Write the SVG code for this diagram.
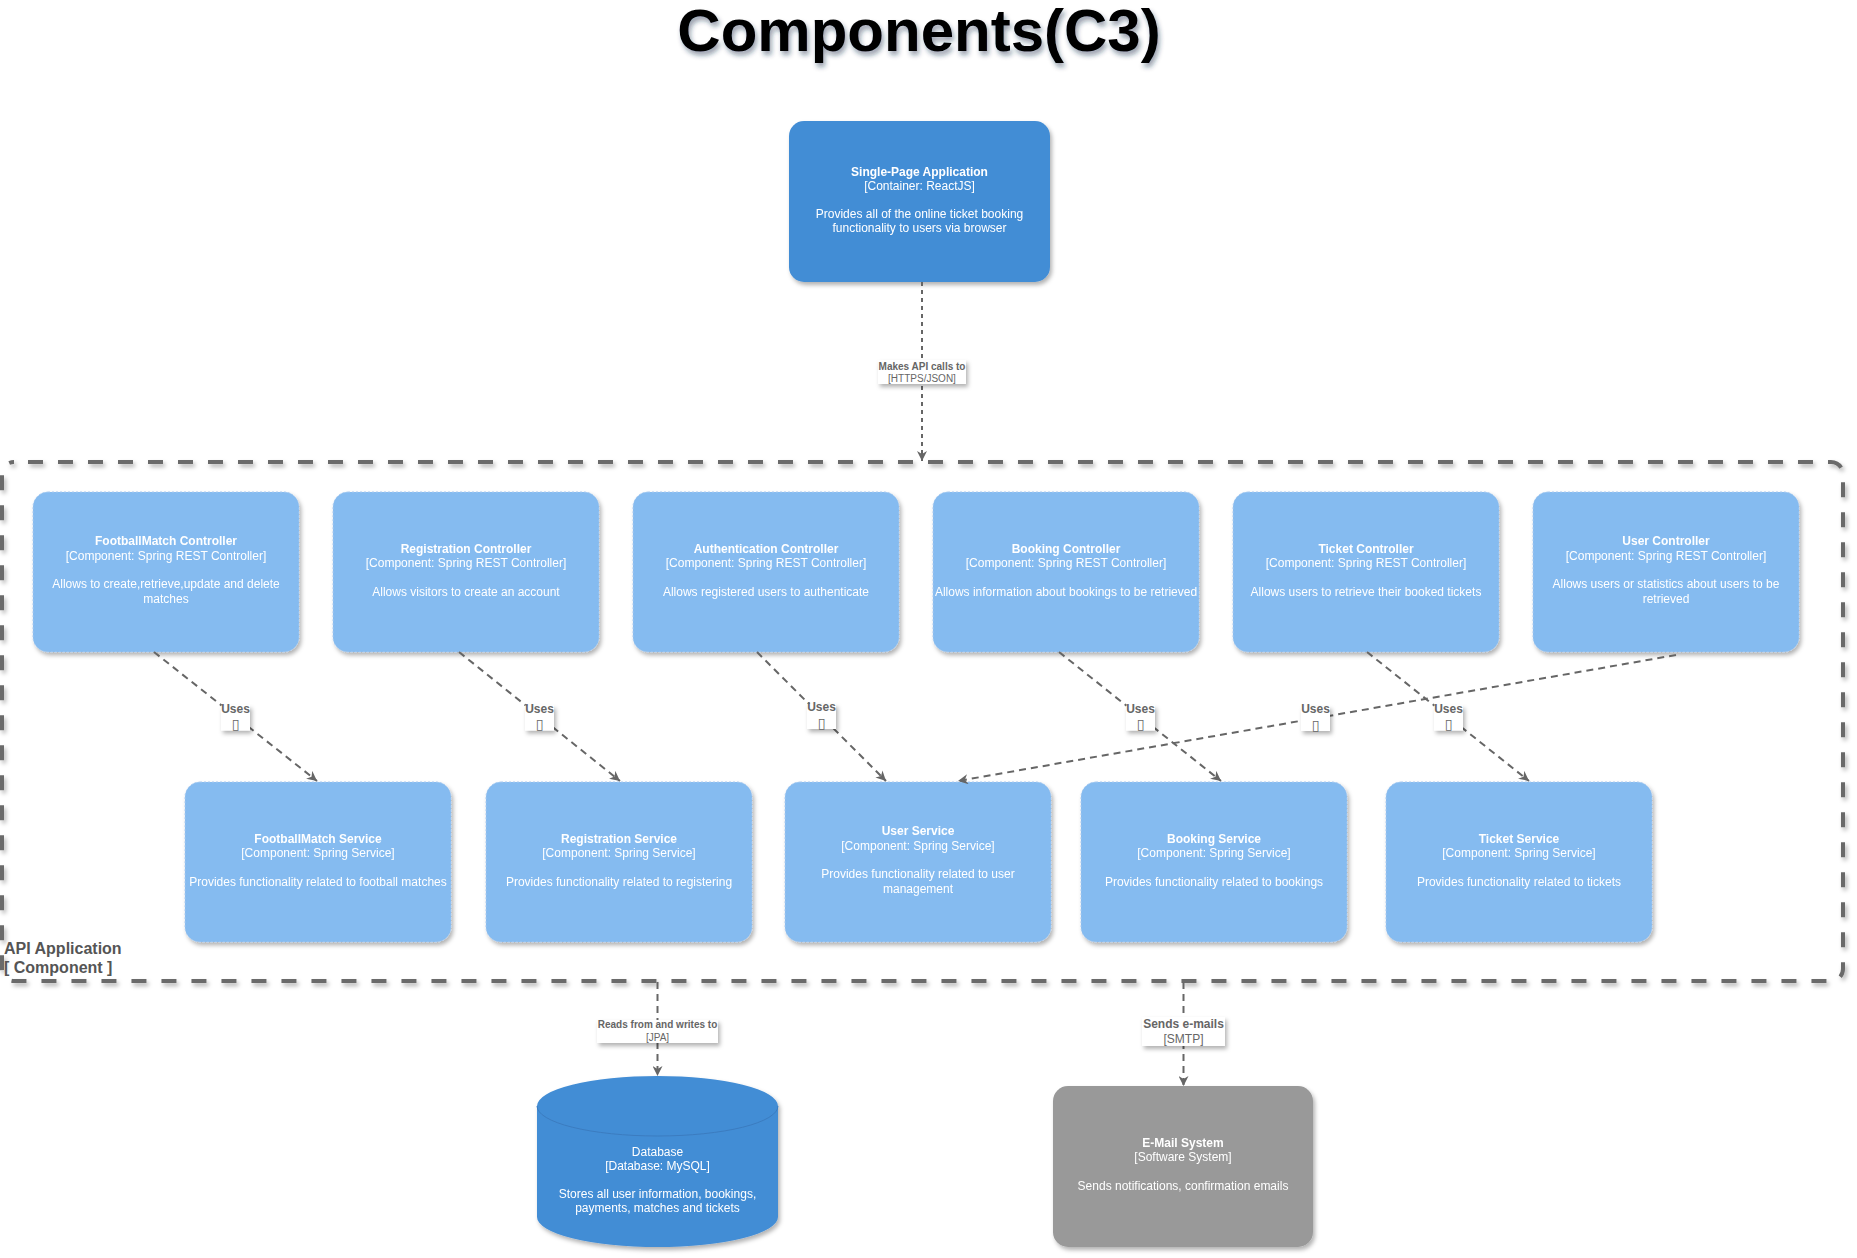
<svg xmlns="http://www.w3.org/2000/svg" width="1857" height="1258" viewBox="0 0 1857 1258">
<defs>
<style>
text{font-family:"Liberation Sans",Arial,Helvetica,sans-serif;}
.t{font-size:12px;fill:#ffffff;text-anchor:middle;}
.b{font-weight:bold;}
.comp{fill:#85bbf0;stroke:#a9c9ee;stroke-width:1;stroke-dasharray:2 2;}
.cont{fill:#438dd5;}
.ext{fill:#999999;}
.edge{fill:none;stroke:#666666;stroke-width:2;stroke-dasharray:7 5;}
.lbl{fill:#ffffff;}
.lt{font-size:12px;fill:#666666;text-anchor:middle;}
.lt10{font-size:10px;fill:#666666;text-anchor:middle;}
.glyph{font-family:"DejaVu Sans",sans-serif;font-size:14px;fill:#666666;text-anchor:middle;}
</style>
<filter id="sh" x="-10%" y="-10%" width="130%" height="130%">
<feDropShadow dx="2" dy="3" stdDeviation="2" flood-color="#000000" flood-opacity="0.3"/>
</filter>
<filter id="tsh" x="-5%" y="-20%" width="110%" height="150%">
<feDropShadow dx="2" dy="4" stdDeviation="2.5" flood-color="#1a2a4a" flood-opacity="0.45"/>
</filter>
<marker id="arr" viewBox="0 0 10 10" refX="10" refY="5" markerWidth="10" markerHeight="10" markerUnits="userSpaceOnUse" orient="auto">
<path d="M0,0 L10,5 L0,10 L3,5 z" fill="#666666"/>
</marker>
</defs>
<rect width="1857" height="1258" fill="#ffffff"/>

<g id="title">
<text x="919" y="51" font-size="60" font-weight="bold" text-anchor="middle" fill="#000000" filter="url(#tsh)">Components(C3)</text>
</g>

<g id="api-application-boundary">
<rect x="2" y="462" width="1841" height="519" rx="12" fill="none" stroke="#6b6b6b" stroke-width="4" stroke-dasharray="15 15" stroke-dashoffset="16" filter="url(#sh)"/>
<text x="4" y="954" font-size="16" font-weight="bold" fill="#555555">API Application</text>
<text x="4" y="973" font-size="16" font-weight="bold" fill="#555555">[ Component ]</text>
</g>

<g id="spa" filter="url(#sh)">
<rect class="cont" x="789" y="121" width="261" height="161" rx="15"/>
<text class="t b" x="919.5" y="176">Single-Page Application</text>
<text class="t" x="919.5" y="190">[Container: ReactJS]</text>
<text class="t" x="919.5" y="218">Provides all of the online ticket booking</text>
<text class="t" x="919.5" y="232">functionality to users via browser</text>
</g>

<g id="footballmatch-controller" filter="url(#sh)">
<rect class="comp" x="33" y="492" width="266" height="160" rx="15"/>
<text class="t b" x="166" y="545.4">FootballMatch Controller</text>
<text class="t" x="166" y="559.7">[Component: Spring REST Controller]</text>
<text class="t" x="166" y="588.3">Allows to create,retrieve,update and delete</text>
<text class="t" x="166" y="602.6">matches</text>
</g>
<g id="registration-controller" filter="url(#sh)">
<rect class="comp" x="333" y="492" width="266" height="160" rx="15"/>
<text class="t b" x="466" y="552.5">Registration Controller</text>
<text class="t" x="466" y="566.8">[Component: Spring REST Controller]</text>
<text class="t" x="466" y="595.5">Allows visitors to create an account</text>
</g>
<g id="authentication-controller" filter="url(#sh)">
<rect class="comp" x="633" y="492" width="266" height="160" rx="15"/>
<text class="t b" x="766" y="552.5">Authentication Controller</text>
<text class="t" x="766" y="566.8">[Component: Spring REST Controller]</text>
<text class="t" x="766" y="595.5">Allows registered users to authenticate</text>
</g>
<g id="booking-controller" filter="url(#sh)">
<rect class="comp" x="933" y="492" width="266" height="160" rx="15"/>
<text class="t b" x="1066" y="552.5">Booking Controller</text>
<text class="t" x="1066" y="566.8">[Component: Spring REST Controller]</text>
<text class="t" x="1066" y="595.5">Allows information about bookings to be retrieved</text>
</g>
<g id="ticket-controller" filter="url(#sh)">
<rect class="comp" x="1233" y="492" width="266" height="160" rx="15"/>
<text class="t b" x="1366" y="552.5">Ticket Controller</text>
<text class="t" x="1366" y="566.8">[Component: Spring REST Controller]</text>
<text class="t" x="1366" y="595.5">Allows users to retrieve their booked tickets</text>
</g>
<g id="user-controller" filter="url(#sh)">
<rect class="comp" x="1533" y="492" width="266" height="160" rx="15"/>
<text class="t b" x="1666" y="545.4">User Controller</text>
<text class="t" x="1666" y="559.7">[Component: Spring REST Controller]</text>
<text class="t" x="1666" y="588.3">Allows users or statistics about users to be</text>
<text class="t" x="1666" y="602.6">retrieved</text>
</g>

<g id="footballmatch-service" filter="url(#sh)">
<rect class="comp" x="185" y="782" width="266" height="160" rx="15"/>
<text class="t b" x="318" y="842.5">FootballMatch Service</text>
<text class="t" x="318" y="856.8">[Component: Spring Service]</text>
<text class="t" x="318" y="885.5">Provides functionality related to football matches</text>
</g>
<g id="registration-service" filter="url(#sh)">
<rect class="comp" x="486" y="782" width="266" height="160" rx="15"/>
<text class="t b" x="619" y="842.5">Registration Service</text>
<text class="t" x="619" y="856.8">[Component: Spring Service]</text>
<text class="t" x="619" y="885.5">Provides functionality related to registering</text>
</g>
<g id="user-service" filter="url(#sh)">
<rect class="comp" x="785" y="782" width="266" height="160" rx="15"/>
<text class="t b" x="918" y="835.4">User Service</text>
<text class="t" x="918" y="849.7">[Component: Spring Service]</text>
<text class="t" x="918" y="878.3">Provides functionality related to user</text>
<text class="t" x="918" y="892.6">management</text>
</g>
<g id="booking-service" filter="url(#sh)">
<rect class="comp" x="1081" y="782" width="266" height="160" rx="15"/>
<text class="t b" x="1214" y="842.5">Booking Service</text>
<text class="t" x="1214" y="856.8">[Component: Spring Service]</text>
<text class="t" x="1214" y="885.5">Provides functionality related to bookings</text>
</g>
<g id="ticket-service" filter="url(#sh)">
<rect class="comp" x="1386" y="782" width="266" height="160" rx="15"/>
<text class="t b" x="1519" y="842.5">Ticket Service</text>
<text class="t" x="1519" y="856.8">[Component: Spring Service]</text>
<text class="t" x="1519" y="885.5">Provides functionality related to tickets</text>
</g>

<g id="database" filter="url(#sh)">
<path class="cont" d="M537,1106 A120.5,30 0 0 1 778,1106 V1217 A120.5,30 0 0 1 537,1217 Z"/>
<path d="M537,1106 A120.5,30 0 0 0 778,1106" fill="none" stroke="#3a7cc0" stroke-width="1"/>
<text class="t" x="657.5" y="1155.7">Database</text>
<text class="t" x="657.5" y="1169.7">[Database: MySQL]</text>
<text class="t" x="657.5" y="1198.3">Stores all user information, bookings,</text>
<text class="t" x="657.5" y="1212.3">payments, matches and tickets</text>
</g>

<g id="email-system" filter="url(#sh)">
<rect class="ext" x="1053" y="1086" width="260" height="161" rx="15"/>
<text class="t b" x="1183" y="1147.3">E-Mail System</text>
<text class="t" x="1183" y="1161.3">[Software System]</text>
<text class="t" x="1183" y="1190">Sends notifications, confirmation emails</text>
</g>

<g id="connectors">
<path class="edge" style="stroke-dasharray:4 4" d="M922,282 V461" marker-end="url(#arr)"/>
<path class="edge" d="M154,652 L317,781" marker-end="url(#arr)"/>
<path class="edge" d="M459,652 L620,781" marker-end="url(#arr)"/>
<path class="edge" d="M757,652 L886,781" marker-end="url(#arr)"/>
<path class="edge" d="M1059,652 L1221,781" marker-end="url(#arr)"/>
<path class="edge" d="M1367,652 L1529,781" marker-end="url(#arr)"/>
<path class="edge" d="M1676,655 L958,781" marker-end="url(#arr)"/>
<path class="edge" d="M657.5,982 V1076" marker-end="url(#arr)"/>
<path class="edge" d="M1183.5,982 V1086" marker-end="url(#arr)"/>

<g filter="url(#sh)">
<rect class="lbl" x="878" y="360" width="88" height="24"/>
<rect class="lbl" x="597" y="1020" width="121" height="23"/>
<rect class="lbl" x="1142" y="1017" width="83" height="29"/>
<rect class="lbl" x="221" y="705.5" width="29" height="25"/>
<rect class="lbl" x="525" y="705.5" width="29" height="25"/>
<rect class="lbl" x="807" y="704" width="29" height="25"/>
<rect class="lbl" x="1126" y="705.5" width="29" height="25"/>
<rect class="lbl" x="1434" y="705.5" width="29" height="25"/>
<rect class="lbl" x="1301" y="706" width="29" height="25"/>
</g>
<text class="lt10 b" x="922" y="369.5">Makes API calls to</text>
<text class="lt10" x="922" y="381.8">[HTTPS/JSON]</text>
<text class="lt10 b" x="657.5" y="1027.8">Reads from and writes to</text>
<text class="lt10" x="657.5" y="1040.8">[JPA]</text>
<text class="lt b" x="1183.5" y="1027.5">Sends e-mails</text>
<text class="lt" x="1183.5" y="1042.5">[SMTP]</text>

<text class="lt b" x="235.5" y="712.5">Uses</text>
<text class="glyph" x="235.5" y="729">▯</text>
<text class="lt b" x="539.5" y="712.5">Uses</text>
<text class="glyph" x="539.5" y="729">▯</text>
<text class="lt b" x="821.5" y="711">Uses</text>
<text class="glyph" x="821.5" y="727.5">▯</text>
<text class="lt b" x="1140.5" y="712.5">Uses</text>
<text class="glyph" x="1140.5" y="729">▯</text>
<text class="lt b" x="1448.5" y="712.5">Uses</text>
<text class="glyph" x="1448.5" y="729">▯</text>
<text class="lt b" x="1315.5" y="713">Uses</text>
<text class="glyph" x="1315.5" y="729.5">▯</text>
</g>
</svg>
